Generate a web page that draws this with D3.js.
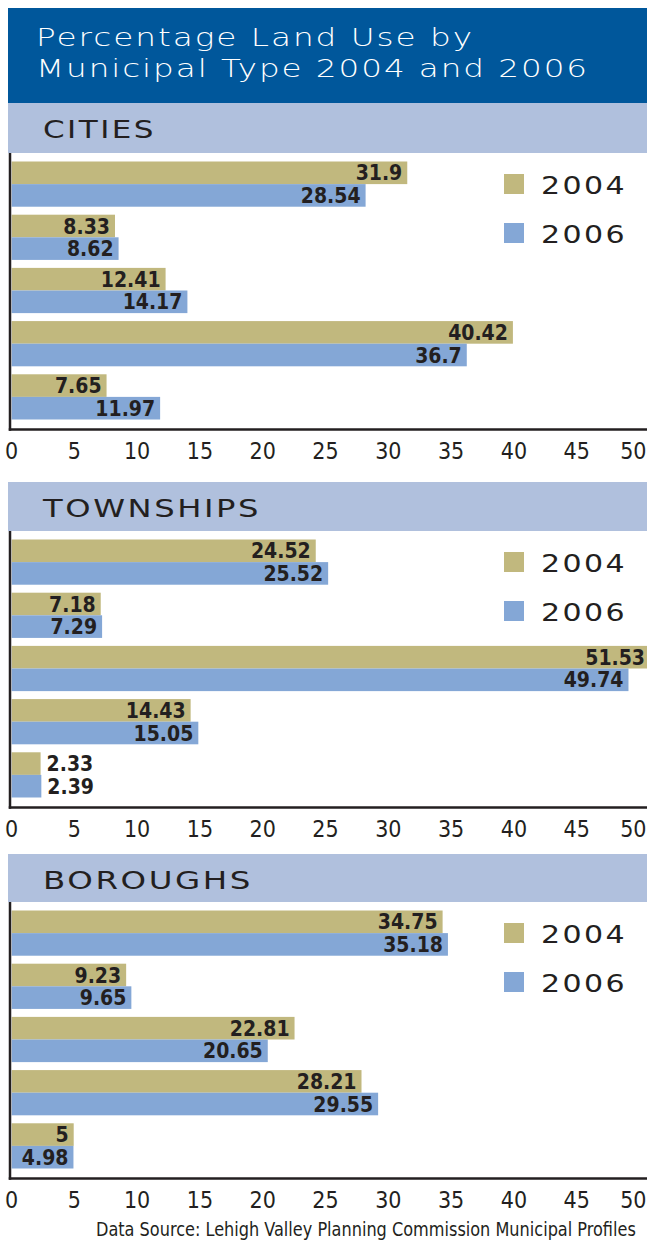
<!DOCTYPE html>
<html><head><meta charset="utf-8">
<script src="https://cdn.jsdelivr.net/npm/d3@7/dist/d3.min.js"></script>
<style>
html,body{margin:0;padding:0;background:#fff;}
svg{display:block;}
</style></head><body>
<svg id="chart" width="647" height="1245"></svg>
<script>
// ---------- DATA ----------
const titleLines = ["Percentage Land Use by", "Municipal Type 2004 and 2006"];
const sectionNames = ["CITIES", "TOWNSHIPS", "BOROUGHS"];
const categories = ["Category 1", "Category 2", "Category 3", "Category 4", "Category 5"];
const seriesNames = ["2004", "2006"];
const cities2004 = [31.9, 8.33, 12.41, 40.42, 7.65];
const cities2006 = [28.54, 8.62, 14.17, 36.7, 11.97];
const townships2004 = [24.52, 7.18, 51.53, 14.43, 2.33];
const townships2006 = [25.52, 7.29, 49.74, 15.05, 2.39];
const boroughs2004 = [34.75, 9.23, 22.81, 28.21, 5];
const boroughs2006 = [35.18, 9.65, 20.65, 29.55, 4.98];
const tickValues = [0, 5, 10, 15, 20, 25, 30, 35, 40, 45, 50];
const sourceText = "Data Source: Lehigh Valley Planning Commission Municipal Profiles";

// ---------- SETUP ----------
const W = 647;
const svg = d3.select("#chart");
const colors = { "2004": "#c1b87e", "2006": "#84a7d6" };
const ink = "#231f20";
const narrow = "'Liberation Sans Narrow', 'DejaVu Sans Condensed', 'Roboto Condensed', sans-serif";
const geo = "'DejaVu Sans', 'Open Sans', sans-serif";

const sections = [
  { name: sectionNames[0], s2004: cities2004, s2006: cities2006 },
  { name: sectionNames[1], s2004: townships2004, s2006: townships2006 },
  { name: sectionNames[2], s2004: boroughs2004, s2006: boroughs2006 }
];

// title
svg.append("rect").attr("x", 8).attr("y", 8).attr("width", W - 8).attr("height", 95).attr("fill", "#00579b");
const titleWidths = [438, 553];
titleLines.forEach((t, i) => {
  svg.append("text")
    .attr("x", 36).attr("y", 46 + i * 31)
    .attr("fill", "#fff")
    .attr("font-family", geo).attr("font-weight", 200).attr("font-size", 25)
    .attr("letter-spacing", 1.5)
    .attr("textLength", titleWidths[i]).attr("lengthAdjust", "spacingAndGlyphs")
    .text(t);
});

const x = d3.scaleLinear().domain([0, 50]).range([11.7, 631.7]);
const xTick = d3.scaleLinear().domain([0, 50]).range([11, 639]);

const bandTops = [103, 482, 854];
const bandHeights = [50, 49, 48];
const nameWidths = [113, 218, 210];

sections.forEach((sec, i) => {
  const bt = bandTops[i];
  const bb = bt + bandHeights[i];
  const g = svg.append("g");

  g.append("rect").attr("x", 8).attr("y", bt).attr("width", W - 8).attr("height", bandHeights[i]).attr("fill", "#b0c0dd");
  g.append("text").attr("x", 43).attr("y", bt + 34.5)
    .attr("fill", ink).attr("font-family", geo).attr("font-size", 25)
    .attr("letter-spacing", 2)
    .attr("textLength", nameWidths[i]).attr("lengthAdjust", "spacingAndGlyphs")
    .text(sec.name);

  const y = d3.scaleBand().domain(categories).range([bb + 8.5, bb + 266.5]).paddingInner(0.15);
  const ys = d3.scaleBand().domain(seriesNames).range([0, y.bandwidth()]);

  const rows = [];
  categories.forEach((c, k) => {
    rows.push({ cat: c, series: "2004", v: sec.s2004[k] });
    rows.push({ cat: c, series: "2006", v: sec.s2006[k] });
  });

  g.selectAll("rect.bar").data(rows).enter().append("rect")
    .attr("class", "bar")
    .attr("x", x(0))
    .attr("y", d => y(d.cat) + ys(d.series))
    .attr("width", d => x(d.v) - x(0))
    .attr("height", ys.bandwidth())
    .attr("fill", d => colors[d.series]);

  g.selectAll("text.val").data(rows).enter().append("text")
    .attr("class", "val")
    .attr("font-family", narrow).attr("font-weight", 700).attr("font-size", 21)
    .attr("fill", ink)
    .attr("dy", "0.36em")
    .attr("y", d => y(d.cat) + ys(d.series) + ys.bandwidth() / 2)
    .text(d => d.v)
    .each(function (d) {
      const w = this.getComputedTextLength();
      const barW = x(d.v) - x(0);
      const sel = d3.select(this);
      if (w + 8 <= barW) {
        sel.attr("text-anchor", "end").attr("x", Math.min(x(d.v) - 5, W - 2));
      } else {
        sel.attr("text-anchor", "start").attr("x", x(d.v) + 6);
      }
    });

  // axis lines
  const axisY = bb + 276.5;
  g.append("line").attr("x1", 10).attr("x2", 10).attr("y1", bb).attr("y2", axisY + 1.25)
    .attr("stroke", ink).attr("stroke-width", 2.5);
  g.append("line").attr("x1", 8.75).attr("x2", W).attr("y1", axisY).attr("y2", axisY)
    .attr("stroke", ink).attr("stroke-width", 2.5);

  const ax = g.append("g").attr("transform", `translate(0,${axisY})`)
    .call(d3.axisBottom(xTick).tickValues(tickValues).tickSize(0).tickPadding(13.5));
  ax.select(".domain").remove();
  ax.selectAll("text").attr("font-family", narrow).attr("font-size", 23).attr("fill", ink);
  // keep the last label inside the page
  ax.selectAll(".tick").filter(d => d === tickValues[tickValues.length - 1])
    .select("text").attr("text-anchor", "end").attr("x", W - 1 - xTick(tickValues[tickValues.length - 1]));

  // legend
  seriesNames.forEach((s, k) => {
    const cy = bb + 31 + k * 49;
    g.append("rect").attr("x", 504).attr("y", cy - 10).attr("width", 20).attr("height", 20).attr("fill", colors[s]);
    g.append("text").attr("x", 541).attr("y", cy + 9.5)
      .attr("fill", ink).attr("font-family", geo).attr("font-size", 25)
      .attr("letter-spacing", 2)
      .attr("textLength", 86).attr("lengthAdjust", "spacingAndGlyphs")
      .text(s);
  });
});

// source note: condensed to fit the page width, height kept via vertical scale
const src = svg.append("text")
  .attr("fill", ink).attr("font-family", narrow).attr("font-size", 20)
  .text(sourceText);
const natural = src.node().getComputedTextLength();
const fs = Math.min(20, 20 * 540 / natural);
src.attr("font-size", fs)
  .attr("transform", `translate(96,1236) scale(1,${20 / fs})`);
</script>
</body></html>
